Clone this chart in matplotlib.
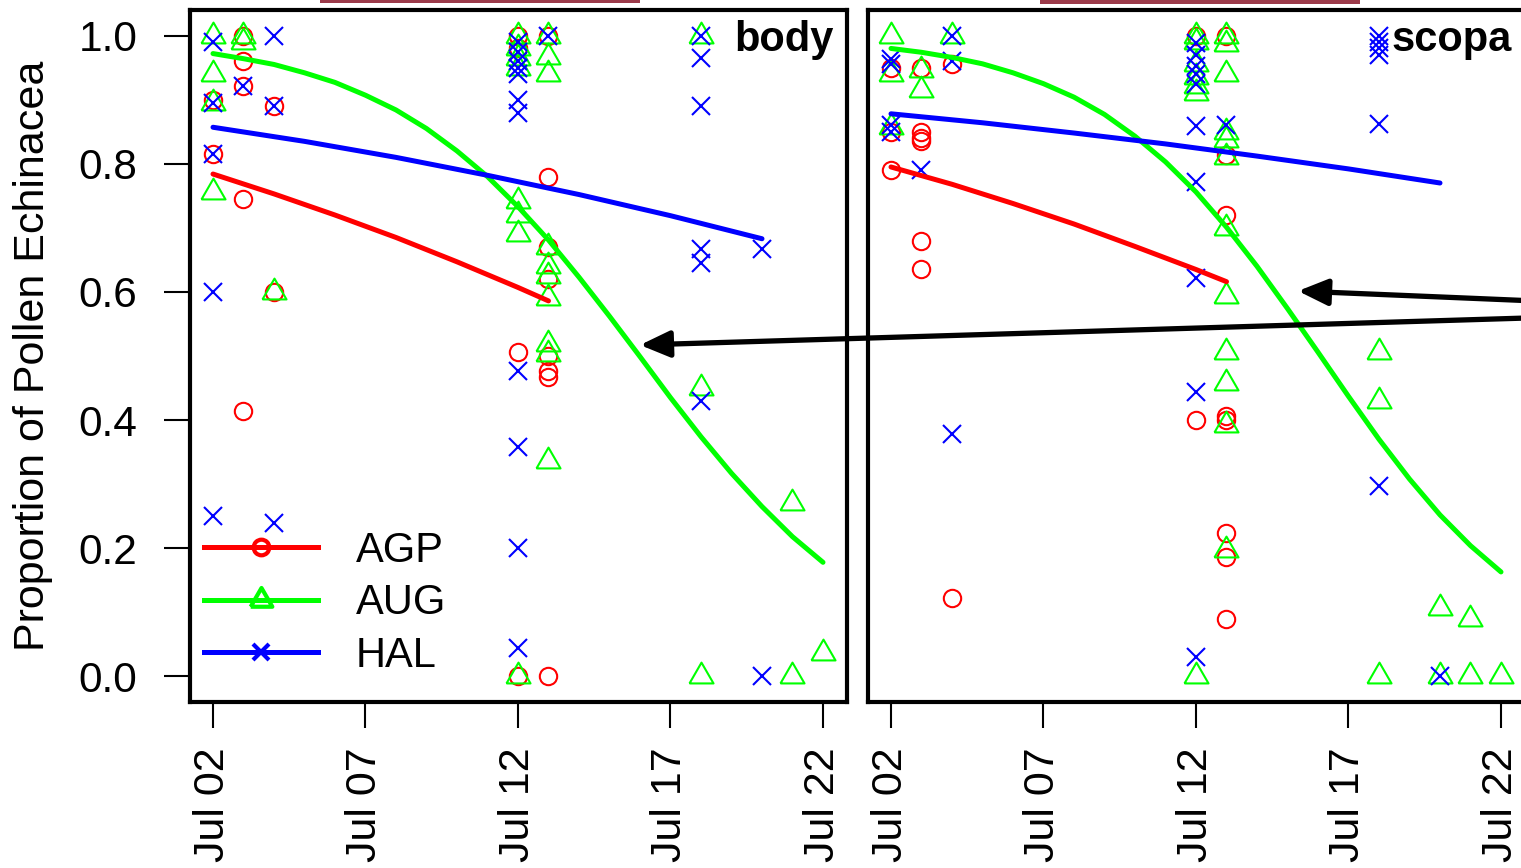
import matplotlib
matplotlib.use("Agg")
import matplotlib.pyplot as plt
import matplotlib.dates as mdates
from matplotlib.lines import Line2D
from matplotlib.patches import Rectangle
import pandas as pd

plt.rcParams['font.family'] = ['Liberation Sans', 'DejaVu Sans']

# ---- observed proportions (day of July, proportion) ----
body_agp_day = [2, 2, 3, 3, 3, 3, 3, 4, 4, 12, 12, 12, 12,
                13, 13, 13, 13, 13, 13, 13, 13]
body_agp_val = [0.90, 0.815, 1.0, 0.96, 0.922, 0.745, 0.414, 0.89, 0.60, 1.0, 0.98, 0.506, 0.0,
                1.0, 0.78, 0.67, 0.62, 0.50, 0.477, 0.467, 0.0]

body_aug_day = [2, 2, 2, 2, 3, 3, 4,
                12, 12, 12, 12, 12, 12, 12, 12,
                13, 13, 13, 13, 13, 13, 13, 13, 13, 13,
                18, 18, 18, 21, 21, 22]
body_aug_val = [1.0, 0.94, 0.895, 0.756, 1.0, 0.99, 0.60,
                1.0, 0.98, 0.965, 0.95, 0.742, 0.72, 0.69, 0.0,
                1.0, 0.967, 0.94, 0.67, 0.64, 0.625, 0.59, 0.519, 0.503, 0.336,
                1.0, 0.45, 0.0, 0.27, 0.0, 0.037]

body_hal_day = [2, 2, 2, 2, 2, 3, 4, 4, 4,
                12, 12, 12, 12, 12, 12, 12, 12, 12, 12, 12,
                13, 18, 18, 18, 18, 18, 18, 20, 20]
body_hal_val = [0.99, 0.895, 0.815, 0.60, 0.25, 0.922, 1.0, 0.89, 0.24,
                0.99, 0.975, 0.96, 0.95, 0.94, 0.90, 0.88, 0.477, 0.358, 0.20, 0.045,
                1.0, 1.0, 0.965, 0.89, 0.667, 0.645, 0.43, 0.667, 0.0]

scopa_agp_day = [2, 2, 2, 3, 3, 3, 3, 3, 3, 4, 4, 12, 12,
                 13, 13, 13, 13, 13, 13, 13, 13]
scopa_agp_val = [0.95, 0.85, 0.79, 0.95, 0.85, 0.84, 0.835, 0.68, 0.636, 0.956, 0.123, 1.0, 0.40,
                 1.0, 0.813, 0.72, 0.406, 0.40, 0.224, 0.186, 0.089]

scopa_aug_day = [2, 2, 2, 3, 3, 4,
                 12, 12, 12, 12, 12, 12, 12,
                 13, 13, 13, 13, 13, 13, 13, 13, 13, 13, 13, 13,
                 18, 18, 18, 20, 20, 21, 21, 22]
scopa_aug_val = [1.0, 0.94, 0.857, 0.946, 0.915, 1.0,
                 1.0, 0.99, 0.956, 0.936, 0.922, 0.911, 0.0,
                 1.0, 0.987, 0.94, 0.85, 0.837, 0.81, 0.70, 0.594, 0.506, 0.458, 0.392, 0.197,
                 0.506, 0.43, 0.0, 0.106, 0.0, 0.089, 0.0, 0.0]

scopa_hal_day = [2, 2, 2, 2, 3, 4, 4, 4,
                 12, 12, 12, 12, 12, 12, 12, 12, 12, 12,
                 13, 18, 18, 18, 18, 18, 18, 20]
scopa_hal_val = [0.964, 0.956, 0.86, 0.85, 0.79, 1.0, 0.96, 0.378,
                 0.988, 0.97, 0.953, 0.94, 0.925, 0.859, 0.772, 0.622, 0.444, 0.03,
                 0.86, 1.0, 0.99, 0.98, 0.97, 0.862, 0.297, 0.0]

# ---- fitted curves ----
aug_fit_day = list(range(2, 23))
body_aug_fit = [0.972, 0.964, 0.955, 0.942, 0.927, 0.907, 0.884, 0.855, 0.820, 0.780, 0.733,
                0.681, 0.623, 0.562, 0.499, 0.435, 0.374, 0.317, 0.265, 0.218, 0.178]
scopa_aug_fit = [0.980, 0.974, 0.966, 0.956, 0.942, 0.925, 0.904, 0.877, 0.843, 0.803, 0.756,
                 0.701, 0.640, 0.574, 0.506, 0.437, 0.370, 0.308, 0.252, 0.204, 0.163]
agp_fit_day = [2, 4, 6, 8, 10, 12, 13]
body_agp_fit = [0.784, 0.753, 0.720, 0.685, 0.647, 0.607, 0.586]
scopa_agp_fit = [0.795, 0.768, 0.738, 0.706, 0.671, 0.635, 0.616]
hal_fit_day = [2, 5, 8, 11, 14, 17, 20]
body_hal_fit = [0.857, 0.835, 0.810, 0.782, 0.752, 0.719, 0.683]
scopa_hal_fit = [0.878, 0.864, 0.848, 0.831, 0.812, 0.792, 0.770]

groups = ["AGP", "AUG", "HAL"]
colors = {"AGP": "#FF0000", "AUG": "#00FF00", "HAL": "#0000FF"}
tri = [(-1, -0.577), (1, -0.577), (0, 1.155), (-1, -0.577)]
markers = {"AGP": ("o", 12.5), "AUG": (tri, 20), "HAL": ("x", 13.5)}


def jul(days):
    return pd.to_datetime([f"2016-07-{int(d):02d}" for d in days])


W, H = 1521, 868
fig = plt.figure(figsize=(W / 100, H / 100), dpi=100)
ax1 = fig.add_axes([190 / W, 1 - 702 / H, 657 / W, 692 / H])
ax2 = fig.add_axes([868 / W, 1 - 702 / H, 657 / W, 692 / H])

panels = [
    (ax1, "body",
     {"AGP": (body_agp_day, body_agp_val), "AUG": (body_aug_day, body_aug_val), "HAL": (body_hal_day, body_hal_val)},
     {"AGP": (agp_fit_day, body_agp_fit), "AUG": (aug_fit_day, body_aug_fit), "HAL": (hal_fit_day, body_hal_fit)}),
    (ax2, "scopa",
     {"AGP": (scopa_agp_day, scopa_agp_val), "AUG": (scopa_aug_day, scopa_aug_val), "HAL": (scopa_hal_day, scopa_hal_val)},
     {"AGP": (agp_fit_day, scopa_agp_fit), "AUG": (aug_fit_day, scopa_aug_fit), "HAL": (hal_fit_day, scopa_hal_fit)}),
]

x0 = mdates.date2num(pd.Timestamp("2016-07-02"))
for ax, name, pts, fits in panels:
    for g in groups:
        d, v = pts[g]
        m, ms = markers[g]
        ax.plot(jul(d), v, linestyle="none", marker=m, ms=ms, mfc="none",
                mec=colors[g], mew=1.5, zorder=2)
    for g in groups:
        d, v = fits[g]
        ax.plot(jul(d), v, color=colors[g], lw=3.6, solid_capstyle="round", zorder=3)
    ax.set_xlim(x0 - 0.754, x0 + 20.787)
    ax.set_ylim(-0.04, 1.04)
    ax.set_xticks(jul([2, 7, 12, 17, 22]))
    ax.xaxis.set_major_formatter(mdates.DateFormatter("%b %d"))
    ax.tick_params(axis="x", labelsize=31, length=19, width=1.5, pad=14, labelrotation=90)
    for s in ax.spines.values():
        s.set_linewidth(3)
    ax.text(0.98, 0.957, name, transform=ax.transAxes, ha="right", va="center",
            fontsize=30, fontweight="bold")

ax1.set_yticks([0.0, 0.2, 0.4, 0.6, 0.8, 1.0])
ax1.set_yticklabels(["0.0", "0.2", "0.4", "0.6", "0.8", "1.0"])
ax1.tick_params(axis="y", labelsize=30.5, length=19, width=1.5, pad=19)
ax2.set_yticks([])

fig.text(33 / W, 1 - 356 / H, "Proportion of Pollen Echinacea", rotation=90,
         ha="center", va="center", fontsize=31)

handles = [Line2D([], [], color=colors[g], lw=3.6, marker=markers[g][0], ms=markers[g][1] * 0.9,
                  mfc="none", mew=3) for g in groups]
ax1.legend(handles, groups, loc="lower left", bbox_to_anchor=(-0.03, -0.01), frameon=False,
           fontsize=30, handlelength=2.75, handletextpad=0.9, labelspacing=0.3, borderpad=0.3)

# arrows coming in from the right edge
for tail, head in [((1560, 317), (640, 345)), ((1560, 302), (1298, 291))]:
    fig.add_artist(matplotlib.text.Annotation(
        "", xy=(head[0] / W, 1 - head[1] / H), xytext=(tail[0] / W, 1 - tail[1] / H),
        xycoords="figure fraction", textcoords="figure fraction",
        arrowprops=dict(arrowstyle="-|>,head_length=0.9,head_width=0.4", color="black",
                        lw=3.8, mutation_scale=20, shrinkA=0, shrinkB=0)))

# edges of cropped photos at the top
fig.add_artist(Rectangle((320 / W, 1 - 3 / H), 320 / W, 3 / H, transform=fig.transFigure,
                         color="#9b3a4a", lw=0))
fig.add_artist(Rectangle((1040 / W, 1 - 4 / H), 320 / W, 4 / H, transform=fig.transFigure,
                         color="#9b3a4a", lw=0))

fig.savefig("out.png", dpi=100)
